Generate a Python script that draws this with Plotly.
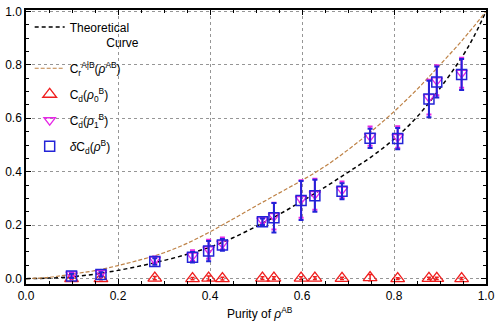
import plotly.graph_objects as go

# Theoretical curve samples
theo_x = [0.0, 0.05, 0.1, 0.15, 0.2, 0.25, 0.3, 0.35, 0.4, 0.45, 0.5, 0.55, 0.6, 0.65, 0.7, 0.75, 0.8, 0.85, 0.9, 0.95, 0.975, 1.0]
theo_y = [0.0, 0.002, 0.007, 0.017, 0.031, 0.048, 0.068, 0.091, 0.118, 0.153, 0.195, 0.24, 0.29, 0.342, 0.398, 0.455, 0.522, 0.605, 0.712, 0.835, 0.91, 1.0]

cr_x = [0.0, 0.05, 0.1, 0.15, 0.2, 0.25, 0.3, 0.35, 0.4, 0.45, 0.5, 0.55, 0.6, 0.65, 0.7, 0.75, 0.8, 0.85, 0.9, 0.95, 1.0]
cr_y = [0.0, 0.005, 0.017, 0.03, 0.049, 0.071, 0.097, 0.132, 0.175, 0.223, 0.272, 0.32, 0.368, 0.42, 0.482, 0.55, 0.625, 0.708, 0.8, 0.895, 1.0]

# Experimental points
purity = [0.099, 0.163, 0.280, 0.362, 0.397, 0.427, 0.514, 0.539, 0.598, 0.628, 0.687, 0.748, 0.808, 0.876, 0.893, 0.947]
delta_cd = [0.010, 0.016, 0.064, 0.080, 0.103, 0.126, 0.213, 0.228, 0.292, 0.310, 0.327, 0.525, 0.524, 0.672, 0.736, 0.764]
delta_err = [0.008, 0.008, 0.012, 0.02, 0.038, 0.022, 0.012, 0.055, 0.073, 0.06, 0.03, 0.036, 0.04, 0.068, 0.058, 0.058]
cd1 = [0.016, 0.022, 0.071, 0.086, 0.110, 0.132, 0.218, 0.234, 0.298, 0.316, 0.333, 0.533, 0.530, 0.679, 0.742, 0.770]
cd1_err = [0.008, 0.008, 0.012, 0.02, 0.036, 0.022, 0.012, 0.05, 0.07, 0.058, 0.03, 0.036, 0.04, 0.065, 0.056, 0.056]
cd0 = [0.0, 0.0, 0.002, 0.0, 0.002, 0.0, 0.002, 0.002, 0.002, 0.002, 0.001, 0.004, 0.0, 0.001, 0.001, 0.0]
cd0_err = [0.004, 0.004, 0.006, 0.004, 0.008, 0.005, 0.005, 0.005, 0.005, 0.005, 0.004, 0.012, 0.003, 0.004, 0.004, 0.004]

tick_vals = [0.0, 0.2, 0.4, 0.6, 0.8, 1.0]
tick_text = ["0.0", "0.2", "0.4", "0.6", "0.8", "1.0"]

BLUE = "rgb(35,35,215)"
MAG = "rgb(230,40,230)"
RED = "rgb(240,30,30)"
BROWN = "rgb(190,130,70)"

fig = go.Figure()
fig.add_trace(go.Scatter(x=theo_x, y=theo_y, mode="lines", line=dict(color="black", width=1.5, dash="4px,3px", shape="spline"),
                         name="Theoretical<br>\u00a0\u00a0\u00a0\u00a0\u00a0\u00a0\u00a0\u00a0\u00a0\u00a0\u00a0Curve", legendgroup="a"))
fig.add_trace(go.Scatter(x=cr_x, y=cr_y, mode="lines", line=dict(color=BROWN, width=1.2, dash="4px,2px", shape="spline"),
                         name="C<sub>r</sub><sup>A|B</sup>(<i>\u03c1</i><sup>AB</sup>)", legendgroup="b"))
fig.add_trace(go.Scatter(x=purity, y=cd0, mode="markers",
                         marker=dict(symbol="triangle-up-open", size=12, color=RED, line=dict(width=1.3, color=RED)),
                         error_y=dict(type="data", array=cd0_err, color=RED, thickness=1.5, width=2),
                         name="C<sub>d</sub>(<i>\u03c1</i><sub>0</sub><sup>B</sup>)", legendgroup="c"))
fig.add_trace(go.Scatter(x=purity, y=cd1, mode="markers",
                         marker=dict(symbol="triangle-down-open", size=10, color=MAG, line=dict(width=1.3, color=MAG)),
                         error_y=dict(type="data", array=cd1_err, color=MAG, thickness=2, width=2.5),
                         name="C<sub>d</sub>(<i>\u03c1</i><sub>1</sub><sup>B</sup>)", legendgroup="d"))
fig.add_trace(go.Scatter(x=purity, y=delta_cd, mode="markers",
                         marker=dict(symbol="square-open", size=10, color=BLUE, line=dict(width=1.5, color=BLUE)),
                         error_y=dict(type="data", array=delta_err, color=BLUE, thickness=2, width=2.5),
                         name="<i>\u03b4</i>C<sub>d</sub>(<i>\u03c1</i><sup>B</sup>)", legendgroup="e"))

axis_common = dict(
    tickvals=tick_vals, ticktext=tick_text, ticks="inside", ticklen=5, tickwidth=1, tickcolor="black",
    showline=True, linecolor="black", linewidth=1.5, mirror="ticks",
    showgrid=True, gridcolor="rgb(150,150,150)", griddash="3px,3px", gridwidth=1,
    zeroline=False, tickfont=dict(size=12, color="black", family="Liberation Sans"),
    minor=dict(ticks="inside", ticklen=3, tickcolor="black", dtick=0.05, showgrid=False),
)
fig.update_xaxes(range=[0, 1], **axis_common)
fig.update_yaxes(range=[-0.02, 1.005], **axis_common)

fig.add_annotation(text="Purity of <i>\u03c1</i><sup>AB</sup>", xref="paper", yref="paper", x=0.508, y=-0.105,
                   xanchor="center", yanchor="middle", showarrow=False,
                   font=dict(size=12, color="black", family="Liberation Sans"))

fig.update_layout(
    width=500, height=322, margin=dict(l=21, r=11, t=5, b=38),
    plot_bgcolor="white", paper_bgcolor="white",
    font=dict(family="Liberation Sans", size=12, color="black"),
    legend=dict(x=0.008, y=0.99, xanchor="left", yanchor="top", bgcolor="rgba(0,0,0,0)",
                valign="top", traceorder="grouped", tracegroupgap=7,
                font=dict(size=12, family="Liberation Sans")),
    showlegend=True,
)
fig.write_html("out.html")
